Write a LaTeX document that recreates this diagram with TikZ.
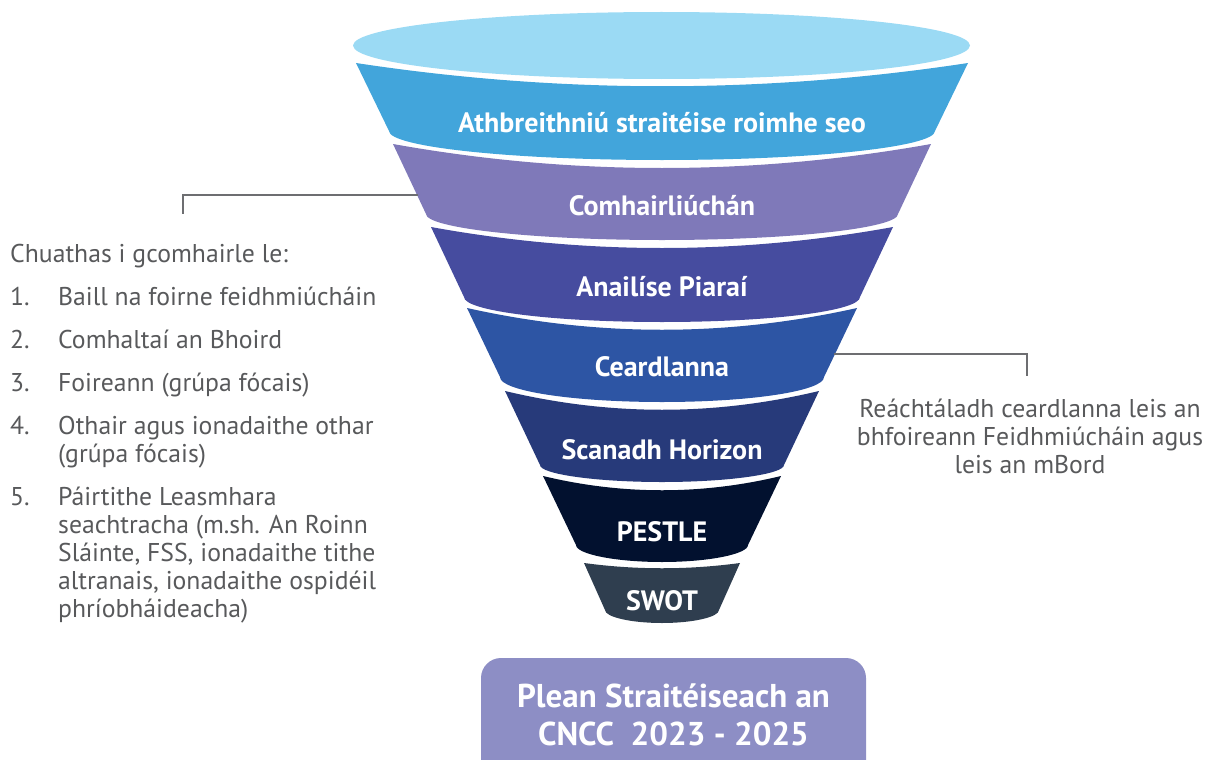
\documentclass[tikz,border=0pt]{standalone}
\usepackage{fontspec}
\setmainfont{PT Sans}
\usetikzlibrary{positioning}
\definecolor{rimblue}{HTML}{9BDAF4}
\definecolor{bandA}{HTML}{42A5DB}
\definecolor{bandB}{HTML}{7F79B9}
\definecolor{bandC}{HTML}{464C9F}
\definecolor{bandD}{HTML}{2D55A4}
\definecolor{bandE}{HTML}{273A7A}
\definecolor{bandF}{HTML}{02112F}
\definecolor{bandG}{HTML}{2F3E4F}
\definecolor{planpurple}{HTML}{8D8EC5}
\definecolor{notegray}{HTML}{58595B}
\definecolor{leadgray}{HTML}{6D6E71}
\tikzset{band label/.style={text=white,inner sep=0pt,anchor=base,
                            font=\bfseries\fontsize{28}{30}\selectfont},
         note/.style={text=notegray,inner sep=0pt,
                      font=\fontsize{25.7}{28}\selectfont},
         leader/.style={draw=leadgray,line width=1.3pt}}

\begin{document}
\begin{tikzpicture}[x=1pt,y=-1pt]
\useasboundingbox (0,0) rectangle (1207,760);

% funnel
\fill[rimblue] (661.5,45.5) ellipse[x radius=308.5,y radius=33.5];
\fill[bandA] (356,63) .. controls (560,94) and (764,94) .. (968,63) -- (935,131)
   .. controls (935,147) and (812,160) .. (662,160) .. controls (512,160) and (389,147) .. (389,131) -- cycle;
\fill[bandB] (393,144) .. controls (572,176) and (752,176) .. (931,144) -- (898,214)
   .. controls (898,228) and (792,240) .. (662,240) .. controls (532,240) and (426,228) .. (426,214) -- cycle;
\fill[bandC] (431,227) .. controls (585,255) and (739,255) .. (893,227) -- (860,297)
   .. controls (860,311) and (771,322) .. (662,322) .. controls (553,322) and (464,311) .. (464,297) -- cycle;
\fill[bandD] (467,308) .. controls (597,337) and (727,337) .. (857,308) -- (824,377)
   .. controls (824,391) and (751,402) .. (662,402) .. controls (573,402) and (500,391) .. (500,377) -- cycle;
\fill[bandE] (505,391) .. controls (610,416) and (714,416) .. (819,391) -- (784,465)
   .. controls (784,474) and (729,482) .. (662,482) .. controls (595,482) and (540,474) .. (540,465) -- cycle;
\fill[bandF] (543,476) .. controls (622,495) and (702,495) .. (781,476) -- (748,545)
   .. controls (748,554) and (709,562) .. (662,562) .. controls (615,562) and (576,554) .. (576,545) -- cycle;
\fill[bandG] (584,563) .. controls (636,570) and (688,570) .. (740,563) -- (719,610)
   .. controls (719,617) and (693,623) .. (662,623) .. controls (631,623) and (605,617) .. (605,610) -- cycle;

\node[band label] (review) at (662,132) {Athbreithniú straitéise roimhe seo};
\node[band label] (consult) at (662,215) {Comhairliúchán};
\node[band label] (peer) at (662,296) {Anailíse Piaraí};
\node[band label] (workshops) at (662,376) {Ceardlanna};
\node[band label] (horizon) at (662,459) {Scanadh Horizon};
\node[band label] (pestle) at (662,541) {PESTLE};
\node[band label] (swot) at (662,610) {SWOT};

% notes
\node[note,anchor=north west,align=left] (consulted) at (10,243.5)
  {Chuathas i gcomhairle le:\\[15pt]
   \makebox[48pt][l]{1.}Baill na foirne feidhmiúcháin\\[15pt]
   \makebox[48pt][l]{2.}Comhaltaí an Bhoird\\[15pt]
   \makebox[48pt][l]{3.}Foireann (grúpa fócais)\\[15pt]
   \makebox[48pt][l]{4.}Othair agus ionadaithe othar\\
   \hspace*{48pt}(grúpa fócais)\\[15pt]
   \makebox[48pt][l]{5.}Páirtithe Leasmhara\\
   \hspace*{48pt}seachtracha (m.sh. An Roinn\\
   \hspace*{48pt}Sláinte, FSS, ionadaithe tithe\\
   \hspace*{48pt}altranais, ionadaithe ospidéil\\
   \hspace*{48pt}phríobháideacha)};
\node[note,anchor=north,align=center] (held) at (1030,399)
  {Reáchtáladh ceardlanna leis an\\bhfoireann Feidhmiúcháin agus\\leis an mBord};

\coordinate (consultedge) at (418,195);
\coordinate (consulttop) at (183,214);
\coordinate (workshopedge) at (834,354);
\coordinate (heldtop) at (1027,376);
\draw[leader] (consultedge) -| (consulttop);
\draw[leader] (workshopedge) -| (heldtop);

% outcome
\fill[planpurple,rounded corners=20] (481,658) rectangle (866,800);
\node[text=white,inner sep=0pt,anchor=north,align=center,
      font=\bfseries\fontsize{33}{38}\selectfont] (plan) at (673.5,684)
  {Plean Straitéiseach an\\CNCC~~2023 - 2025};
\end{tikzpicture}
\end{document}
